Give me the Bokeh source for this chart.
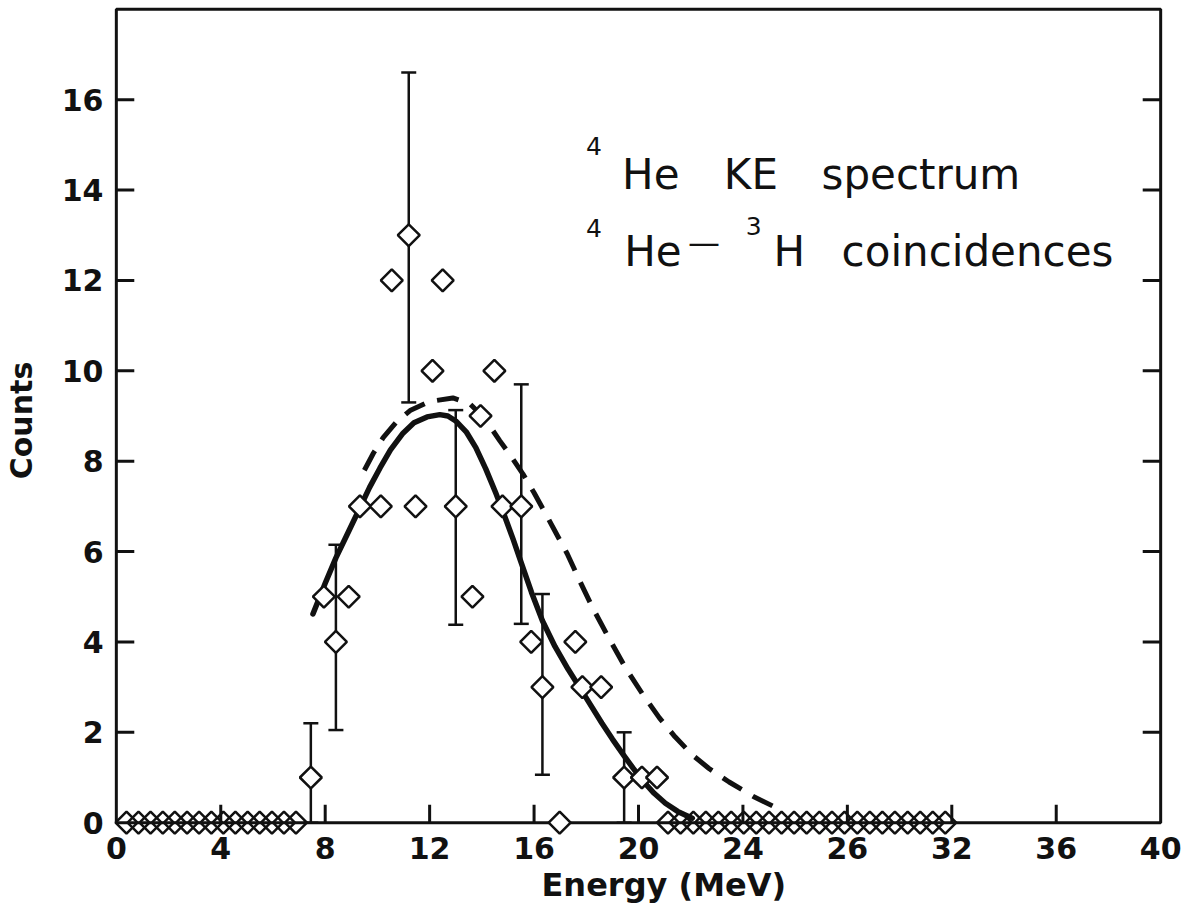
from bokeh.plotting import figure
from bokeh.models import Range1d, FixedTicker, Label, ColumnDataSource, Whisker, TeeHead, Title
from bokeh.embed import file_html
from bokeh.resources import INLINE

# Axis box and ticks
X_MIN, X_MAX = 0, 40
Y_MIN, Y_MAX = 0, 18
x_ticks = [0, 4, 8, 12, 16, 20, 24, 28, 32, 36, 40]
x_tick_labels = ["0", "4", "8", "12", "16", "20", "24", "26", "32", "36", "40"]
y_ticks = [0, 2, 4, 6, 8, 10, 12, 14, 16]

# Measured 4He kinetic-energy spectrum (4He-3H coincidences)
energy = [7.45, 7.95, 8.41, 8.9, 9.33, 10.13, 10.55, 11.2, 11.46, 12.11, 12.5, 13.0, 13.64,
          13.95, 14.48, 14.79, 15.51, 15.89, 16.32, 16.98, 17.58, 17.85, 18.57, 19.45,
          20.13, 20.71]
counts = [1, 5, 4, 5, 7, 7, 12, 13, 7, 10, 12, 7, 5,
          9, 10, 7, 7, 4, 3, 0, 4, 3, 3, 1,
          1, 1]

# Empty bins below and above the peak
zero_energy = [0.39, 0.85, 1.31, 1.78, 2.24, 2.71, 3.17, 3.64, 4.1, 4.56, 5.03, 5.49, 5.96,
               6.42, 6.88,
               21.13, 21.61, 22.1, 22.58, 23.06, 23.55, 24.03, 24.51, 25.0, 25.48, 25.96,
               26.44, 26.93, 27.41, 27.89, 28.38, 28.86, 29.34, 29.82, 30.31, 30.79, 31.27,
               31.75]
zero_counts = [0] * len(zero_energy)

# Error bars on selected bins
err_energy = [7.45, 8.41, 11.2, 13.0, 15.51, 16.32, 19.45]
err_low = [0.0, 2.05, 9.3, 4.38, 4.4, 1.06, 0.0]
err_high = [2.2, 6.15, 16.6, 9.13, 9.7, 5.06, 2.0]

# Calculated spectra (solid and dashed)
fit_energy = [7.53, 8.0, 8.41, 8.9, 9.33, 9.7, 10.1, 10.5, 10.98, 11.4, 11.9, 12.39, 12.7,
              13.0, 13.4, 13.77, 14.15, 14.53, 14.8, 15.2, 15.45, 15.9, 16.32, 16.8, 17.3,
              17.9, 18.6, 19.0, 19.45, 19.8, 20.13, 20.6, 21.03, 21.5, 22.06]
fit_counts = [4.62, 5.3, 5.86, 6.45, 6.97, 7.42, 7.85, 8.25, 8.62, 8.85, 8.98, 9.03, 9.0,
              8.89, 8.65, 8.3, 7.83, 7.3, 6.9, 6.27, 5.85, 5.1, 4.47, 3.9, 3.4,
              2.85, 2.2, 1.85, 1.48, 1.2, 0.95, 0.65, 0.43, 0.25, 0.1]
calc_energy = [9.5, 9.85, 10.22, 10.7, 11.25, 12.0, 12.89, 13.54, 14.1, 14.69, 15.1, 15.57,
               16.0, 16.44, 16.85, 17.27, 17.75, 18.23, 18.85, 19.5, 20.15, 20.8, 21.4,
               22.06, 22.7, 23.47, 24.4, 25.42]
calc_counts = [7.8, 8.18, 8.52, 8.85, 9.12, 9.32, 9.4, 9.27, 8.95, 8.45, 8.12, 7.72,
               7.3, 6.84, 6.4, 5.95, 5.35, 4.77, 4.1, 3.43, 2.85, 2.32, 1.9,
               1.5, 1.2, 0.9, 0.58, 0.29]

FONT = "DejaVu Sans"
INK = "#111111"

p = figure(width=1185, height=914,
           x_range=Range1d(-0.3, 40.3), y_range=Range1d(-0.35, 18.15),
           output_backend="svg", toolbar_location=None,
           min_border_left=105, min_border_right=17, min_border_top=2, min_border_bottom=76)
p.outline_line_color = None
p.grid.visible = False
p.background_fill_color = "white"
p.border_fill_color = "white"

# Tick labels only; the box and the inward ticks are drawn as glyphs
for ax in (p.xaxis[0], p.yaxis[0]):
    ax.axis_line_color = None
    ax.major_tick_line_color = None
    ax.minor_tick_line_color = None
    ax.major_tick_in = 0
    ax.major_tick_out = 0
    ax.major_label_text_font = FONT
    ax.major_label_text_font_style = "bold"
    ax.major_label_text_font_size = "30px"
    ax.major_label_text_color = INK
p.xaxis.ticker = FixedTicker(ticks=x_ticks)
p.xaxis.major_label_overrides = {t: s for t, s in zip(x_ticks, x_tick_labels)}
p.xaxis.major_label_standoff = -2
p.yaxis.ticker = FixedTicker(ticks=y_ticks)
p.yaxis.major_label_standoff = 5
p.yaxis.axis_label = "Counts"
p.yaxis.axis_label_text_font = FONT
p.yaxis.axis_label_text_font_size = "30px"
p.yaxis.axis_label_text_font_style = "bold"
p.yaxis.axis_label_text_color = INK
p.yaxis.axis_label_standoff = 20

p.add_layout(Title(text="Energy (MeV)", align="left", offset=433, standoff=5,
                   text_font=FONT, text_font_size="32px", text_font_style="bold",
                   text_color=INK), "below")

# Axis box
p.multi_line(xs=[[X_MIN, X_MAX, X_MAX, X_MIN, X_MIN]], ys=[[Y_MIN, Y_MIN, Y_MAX, Y_MAX, Y_MIN]],
             line_color=INK, line_width=3)

# Inward tick marks (18 px long)
TICK_X = 18 / 26.18
TICK_Y = 18 / 45.19
inner_y = [t for t in y_ticks if t > Y_MIN]
inner_x = [t for t in x_ticks if X_MIN < t < X_MAX]
p.segment(x0=[X_MIN] * len(inner_y), y0=inner_y, x1=[X_MIN + TICK_X] * len(inner_y), y1=inner_y,
          line_color=INK, line_width=3)
p.segment(x0=[X_MAX] * len(inner_y), y0=inner_y, x1=[X_MAX - TICK_X] * len(inner_y), y1=inner_y,
          line_color=INK, line_width=3)
p.segment(x0=inner_x, y0=[Y_MIN] * len(inner_x), x1=inner_x, y1=[Y_MIN + TICK_Y] * len(inner_x),
          line_color=INK, line_width=3)

# Calculated curves
p.line(fit_energy, fit_counts, line_color=INK, line_width=5.5, line_cap="round",
       line_join="round")
p.line(calc_energy, calc_counts, line_color=INK, line_width=5, line_dash="22 13",
       line_join="round")

# Error bars
err_src = ColumnDataSource(dict(base=err_energy, lower=err_low, upper=err_high))
p.add_layout(Whisker(source=err_src, base="base", lower="lower", upper="upper",
                     line_color=INK, line_width=2.5,
                     upper_head=TeeHead(size=15, line_width=2.5, line_color=INK),
                     lower_head=TeeHead(size=15, line_width=2.5, line_color=INK)))

# Data points
p.scatter(zero_energy, zero_counts, marker="square", angle=0.7854, size=15.5,
          line_color=INK, line_width=2.5, fill_alpha=0)
p.scatter(energy, counts, marker="square", angle=0.7854, size=15.5,
          line_color=INK, line_width=2.5, fill_color="white")


def put(text, x, y, size):
    p.add_layout(Label(x=x, y=y, text=text, text_font=FONT, text_font_size=size,
                       text_color=INK, text_align="left", text_baseline="alphabetic"))


# Legend text
put("4", 17.99, 14.97, "25px")
put("He", 19.37, 14.34, "42px")
put("KE", 23.27, 14.34, "42px")
put("spectrum", 27.01, 14.34, "42px")
put("4", 17.99, 13.16, "25px")
put("He", 19.45, 12.63, "42px")
put("\u2014", 21.9, 12.83, "32px")
put("3", 24.11, 13.2, "25px")
put("H", 25.17, 12.63, "42px")
put("coincidences", 27.78, 12.63, "42px")

open("out.html", "w").write(file_html(p, INLINE))
